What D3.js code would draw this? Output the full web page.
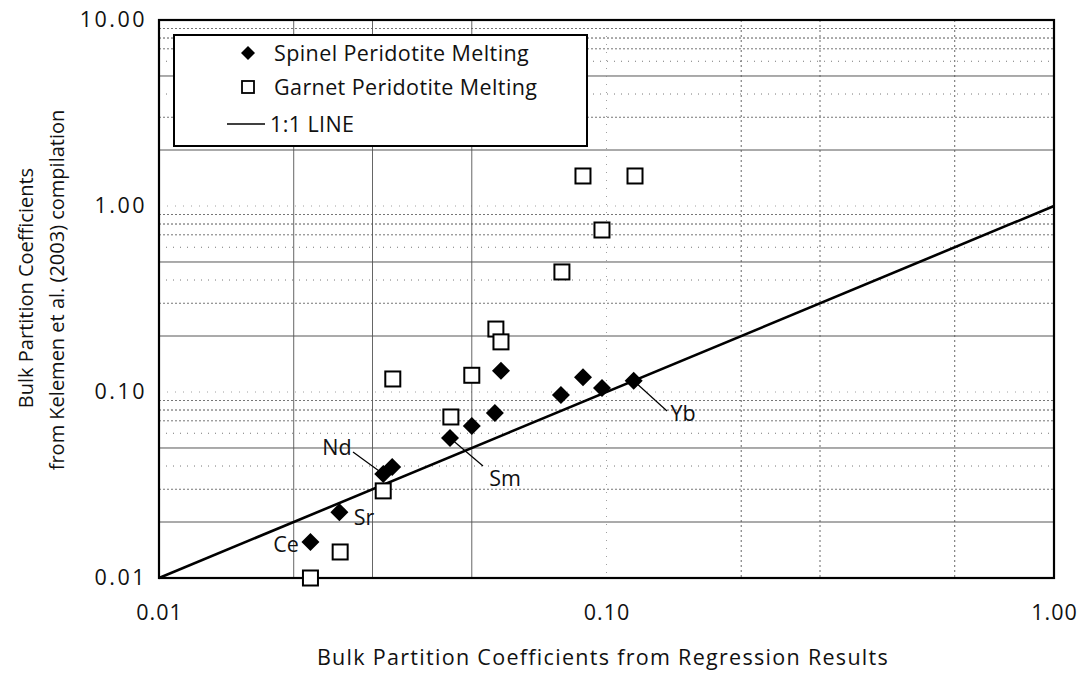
<!DOCTYPE html>
<html><head><meta charset="utf-8">
<script src="https://cdn.jsdelivr.net/npm/d3@7"></script>
<style>
body{margin:0;background:#fff;}
text{font-family:"Open Sans","Noto Sans",sans-serif;fill:#111;}
</style></head>
<body><svg id="c" width="1083" height="677"></svg>
<script>
// ---- data ----
const spinelX = [0.0218,0.0253,0.0317,0.0332,0.0447,0.0500,0.0563,0.0581,0.0791,0.0886,0.0977,0.115];
const spinelY = [0.0156,0.0226,0.0362,0.0395,0.0566,0.0656,0.0771,0.130,0.0963,0.120,0.105,0.115];
const garnetX = [0.0218,0.0254,0.0317,0.0333,0.0449,0.0500,0.0566,0.0581,0.0795,0.0886,0.1158,0.0977];
const garnetY = [0.0100,0.0138,0.0294,0.1175,0.0734,0.123,0.218,0.186,0.442,1.45,1.45,0.743];
const oneToOne = [0.01, 1];
const labelNames = ["Ce","Sr","Nd","Sm","Yb"];
const labelIdx = [0,1,2,4,11];  // index into spinel series
const yTicks = [0.01,0.1,1,10];
const xTicks = [0.01,0.1,1];
const xGridMinor = [0.02,0.03,0.05,0.2,0.3,0.6];
const legendLabels = ["Spinel Peridotite Melting","Garnet Peridotite Melting","1:1 LINE"];
const xTitle = "Bulk Partition Coefficients from Regression Results";
const yTitle = ["Bulk Partition Coefficients","from Kelemen et al. (2003) compilation"];

// ---- layout ----
const L=159,R=1054,T=20,B=578;
const FS=21.5;
const svg=d3.select("#c");
const x=d3.scaleLog().domain([0.01,1]).range([L,R]);
const y=d3.scaleLog().domain([0.01,10]).range([B,T]);

const mant=d=>Math.round(d/Math.pow(10,Math.floor(Math.log10(d)+1e-9)));
// horizontal minor gridlines
const yMinor=[];
[0.01,0.1,1].forEach(d=>{for(let k=2;k<=9;k++) yMinor.push(+(d*k).toPrecision(3));});
const g=svg.append("g");
g.selectAll("line.hm").data(yMinor).join("line")
 .attr("x1",L).attr("x2",R).attr("y1",d=>y(d)).attr("y2",d=>y(d))
 .attr("stroke",d=>[2,5,8].includes(mant(d))?"#444":"#666")
 .attr("stroke-width",0.9)
 .attr("stroke-dasharray",d=>{const k=mant(d);return (k===2||k===5)?null:(k===4||k===6)?"1,6":"2,2";});
// major horizontal (faint)
g.selectAll("line.hM").data([0.1,1]).join("line")
 .attr("x1",L).attr("x2",R).attr("y1",d=>y(d)).attr("y2",d=>y(d))
 .attr("stroke","#888").attr("stroke-width",0.8).attr("stroke-dasharray","1,7");
// vertical gridlines
g.selectAll("line.vm").data(xGridMinor).join("line")
 .attr("y1",T).attr("y2",B).attr("x1",d=>x(d)).attr("x2",d=>x(d))
 .attr("stroke","#555").attr("stroke-width",0.9)
 .attr("stroke-dasharray",d=>d<0.1?null:"2,3");
g.append("line").attr("y1",T).attr("y2",B).attr("x1",x(0.1)).attr("x2",x(0.1))
 .attr("stroke","#888").attr("stroke-width",0.8).attr("stroke-dasharray","1,7");

// 1:1 line
svg.append("line").attr("x1",x(oneToOne[0])).attr("y1",y(oneToOne[0]))
 .attr("x2",x(oneToOne[1])).attr("y2",y(oneToOne[1]))
 .attr("stroke","#000").attr("stroke-width",2.6);

// frame
svg.append("rect").attr("x",L).attr("y",T).attr("width",R-L).attr("height",B-T)
 .attr("fill","none").attr("stroke","#000").attr("stroke-width",2.2);

// axes
const ya=svg.append("g").attr("transform",`translate(${L},0)`)
 .call(d3.axisLeft(y).tickValues(yTicks).tickFormat(d3.format(".2f")).tickSize(0).tickPadding(12));
ya.select(".domain").remove();
ya.selectAll("text").attr("font-size",FS).attr("letter-spacing",2.5).attr("font-family","Open Sans").attr("fill","#111");
const xa=svg.append("g").attr("transform",`translate(0,${B})`)
 .call(d3.axisBottom(x).tickValues(xTicks).tickFormat(d3.format(".2f")).tickSize(0).tickPadding(27));
xa.select(".domain").remove();
xa.selectAll("text").attr("font-size",FS).attr("letter-spacing",1).attr("font-family","Open Sans").attr("fill","#111");

// axis titles
svg.append("text").attr("x",603).attr("y",665).attr("text-anchor","middle")
 .attr("font-size",FS).attr("letter-spacing",1.3).text(xTitle);
svg.append("text").attr("transform","translate(33,288) rotate(-90)").attr("text-anchor","middle")
 .attr("font-size",20).text(yTitle[0]);
svg.append("text").attr("transform","translate(64,290) rotate(-90)").attr("text-anchor","middle")
 .attr("font-size",20).text(yTitle[1]);

// leader lines
const leaders=[null,null,[353,452],[483,466],[667,411]];
labelIdx.forEach((si,i)=>{ if(leaders[i]){
  svg.append("line").attr("x1",x(spinelX[si])).attr("y1",y(spinelY[si]))
   .attr("x2",leaders[i][0]).attr("y2",leaders[i][1]).attr("stroke","#000").attr("stroke-width",1.2);
}});

// markers
svg.selectAll("path.sp").data(spinelX.map((d,i)=>[d,spinelY[i]])).join("path")
 .attr("d","M0,-9L9,0L0,9L-9,0Z")
 .attr("transform",d=>`translate(${x(d[0])},${y(d[1])})`).attr("fill","#000");
svg.selectAll("rect.gt").data(garnetX.map((d,i)=>[d,garnetY[i]])).join("rect")
 .attr("x",d=>x(d[0])-7.5).attr("y",d=>y(d[1])-7.5).attr("width",15).attr("height",15)
 .attr("fill","#fff").attr("stroke","#000").attr("stroke-width",2);

// point labels
const labelPos=[[286,552],[364,525],[337,455],[505,486],[683,421]];
labelNames.forEach((n,i)=>{
  svg.append("text").attr("x",labelPos[i][0]).attr("y",labelPos[i][1]).attr("text-anchor","middle")
   .attr("font-size",FS).text(n);
});

// legend
const lg=svg.append("g");
lg.append("rect").attr("x",174).attr("y",35).attr("width",413).attr("height",111)
 .attr("fill","#fff").attr("stroke","#000").attr("stroke-width",2);
lg.append("path").attr("d","M0,-7L7,0L0,7L-7,0Z").attr("transform","translate(248,53)").attr("fill","#000");
lg.append("rect").attr("x",242).attr("y",81).attr("width",12).attr("height",12)
 .attr("fill","#fff").attr("stroke","#000").attr("stroke-width",1.8);
lg.append("line").attr("x1",227).attr("x2",265).attr("y1",124).attr("y2",124).attr("stroke","#000").attr("stroke-width",1.3);
legendLabels.forEach((t,i)=>{
  lg.append("text").attr("x",i<2?274:270).attr("y",[53,87,124][i]).attr("dy","0.35em")
   .attr("font-size",FS).attr("letter-spacing",0.4).text(t);
});
</script></body></html>
